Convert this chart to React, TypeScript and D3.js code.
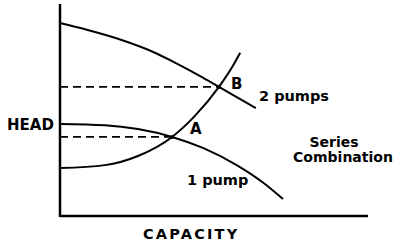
import React from "react";
import * as d3 from "d3";

// Capacity / head readings (nominal units 0..100)
const twoPumpQ = [0, 9, 20, 31, 37, 45.5, 51.6, 63.6];
const twoPumpH = [91, 87.7, 83, 76.9, 72.6, 66, 60.9, 50.9];
const onePumpQ = [0, 14.6, 25.3, 36.4, 46.4, 57.5, 65.9, 72.4];
const onePumpH = [43.4, 42.8, 41.0, 37.3, 32.1, 23.9, 15.8, 8];
const systemQ = [0, 14.6, 25.3, 36.4, 43.8, 51.6, 56.2, 58.5];
const systemH = [22.6, 24.0, 28.3, 37.3, 47.2, 60.9, 71.0, 77];
const opPointNames = ["A", "B"];
const opPointQ = [36.4, 51.6];
const opPointH = [37.3, 60.9];

const W = 400;
const H = 242;

export default function App() {
  const x = d3.scaleLinear().domain([0, 100]).range([60, 368]);
  const y = d3.scaleLinear().domain([0, 100]).range([216, 4]);
  const line = d3
    .line<[number, number]>()
    .x((d) => x(d[0]))
    .y((d) => y(d[1]))
    .curve(d3.curveMonotoneX);
  const zip = (a: number[], b: number[]) => a.map((v, i) => [v, b[i]] as [number, number]);
  const font = "'DejaVu Sans', sans-serif";
  const txt = { fontFamily: font, fontWeight: 700, fontSize: 15, fill: "#000" } as const;
  return (
    <svg
      width={W}
      height={H}
      style={{ position: "absolute", left: 0, top: 0, display: "block", background: "#fff" }}
    >
      <rect width={W} height={H} fill="#fff" />
      {/* axes */}
      <line x1={x(0)} y1={y(100)} x2={x(0)} y2={y(0) + 1} stroke="#000" strokeWidth={2.5} />
      <line x1={x(0)} y1={y(0)} x2={x(100)} y2={y(0)} stroke="#000" strokeWidth={2.5} />
      {/* dashed operating lines */}
      {opPointQ.map((q, i) => (
        <line
          key={i}
          x1={x(0)}
          x2={x(q)}
          y1={y(opPointH[i])}
          y2={y(opPointH[i])}
          stroke="#000"
          strokeWidth={1.8}
          strokeDasharray="8 5"
        />
      ))}
      <path d={line(zip(twoPumpQ, twoPumpH)) || ""} fill="none" stroke="#000" strokeWidth={2} />
      <path d={line(zip(onePumpQ, onePumpH)) || ""} fill="none" stroke="#000" strokeWidth={2} />
      <path d={line(zip(systemQ, systemH)) || ""} fill="none" stroke="#000" strokeWidth={2} />
      {opPointQ.map((q, i) => (
        <circle key={i} cx={x(q)} cy={y(opPointH[i])} r={2} fill="#000" />
      ))}
      <text x={x(opPointQ[0]) + 18} y={y(opPointH[0]) - 3} {...txt}>
        {opPointNames[0]}
      </text>
      <text x={x(opPointQ[1]) + 12} y={y(opPointH[1]) + 2} {...txt}>
        {opPointNames[1]}
      </text>
      <text x={7} y={130} {...txt}>HEAD</text>
      <text x={259} y={101} {...txt} fontSize={14.5}>2 pumps</text>
      <text x={187} y={185} {...txt} fontSize={14.5}>1 pump</text>
      <text x={334} y={147} {...txt} fontSize={14} textAnchor="middle">Series</text>
      <text x={343} y={162} {...txt} fontSize={14} textAnchor="middle">Combination</text>
      <text x={143} y={239} {...txt} fontSize={14.5} letterSpacing={2.2}>CAPACITY</text>
    </svg>
  );
}
